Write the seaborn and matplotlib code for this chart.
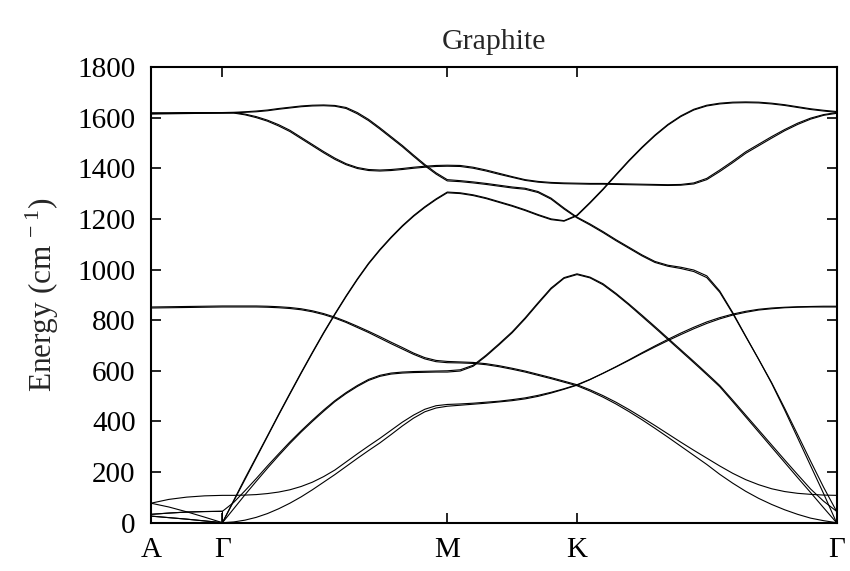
import matplotlib
matplotlib.use("Agg")
import matplotlib.pyplot as plt
import numpy as np
import pandas as pd
import seaborn as sns

# High-symmetry path A - Gamma - M - K - Gamma (path length in 1/Angstrom)
tick_labels = ["A", "Γ", "M", "K", "Γ"]
tick_pos = [0.0, 0.469, 1.944, 2.795, 4.498]

# Sampling fractions inside each segment of the path
frac_AG = [0, 0.25, 0.5, 0.75, 1]
frac_GM = [0] + [i / 20 for i in range(21)]
frac_MK = [i / 10 for i in range(11)]
frac_KG = [i / 20 for i in range(21)]

# Phonon branches (cm^-1); each list runs A-G (5) | G (1) + G-M (21) | M-K (11) | K-G (21)
lo_1 = [1619, 1619, 1620, 1620, 1620,
        1620, 1620, 1621, 1623, 1626, 1630, 1636, 1641, 1646, 1649, 1650, 1648,
        1640, 1620, 1593, 1560, 1525, 1490, 1452, 1415, 1382, 1355,
        1355, 1351, 1346, 1340, 1333, 1326, 1321, 1308, 1282, 1243, 1207,
        1207, 1180, 1150, 1118, 1088, 1058, 1032, 1017, 1009, 998, 975,
        915, 830, 737, 645, 550, 445, 335, 225, 115, 0]
lo_2 = [1617, 1617, 1618, 1618, 1618,
        1618, 1618, 1619, 1621, 1623, 1627, 1633, 1638, 1643, 1646, 1647, 1645,
        1636, 1615, 1588, 1555, 1520, 1485, 1447, 1410, 1377, 1350,
        1350, 1347, 1342, 1336, 1329, 1322, 1317, 1304, 1278, 1239, 1204,
        1204, 1176, 1146, 1114, 1084, 1054, 1028, 1013, 1004, 992, 968,
        910, 826, 735, 645, 553, 452, 348, 243, 140, 45]
to_1 = [1616, 1617, 1618, 1619, 1620,
        1620, 1620, 1620, 1614, 1604, 1590, 1572, 1550, 1522, 1494, 1466, 1440,
        1418, 1403, 1395, 1393, 1395, 1399, 1404, 1408, 1411, 1412,
        1412, 1411, 1404, 1393, 1380, 1367, 1355, 1348, 1344, 1342, 1341,
        1341, 1340, 1340, 1339, 1338, 1337, 1336, 1335, 1336, 1342, 1360,
        1393, 1428, 1465, 1495, 1525, 1553, 1578, 1598, 1612, 1620]
to_2 = [1614, 1615, 1616, 1617, 1618,
        1618, 1618, 1618, 1611, 1600, 1586, 1567, 1545, 1517, 1489, 1461, 1435,
        1414, 1399, 1391, 1389, 1391, 1395, 1400, 1404, 1407, 1408,
        1408, 1407, 1400, 1389, 1376, 1364, 1352, 1345, 1341, 1339, 1338,
        1338, 1337, 1337, 1336, 1335, 1334, 1333, 1332, 1333, 1338, 1355,
        1387, 1422, 1459, 1489, 1519, 1548, 1573, 1594, 1609, 1617]
la_1 = [26, 20, 14, 7, 0,
        0, 0, 85, 170, 255, 340, 425, 508, 590, 670, 748, 822,
        893, 960, 1022, 1076, 1125, 1170, 1210, 1245, 1276, 1303,
        1303, 1300, 1292, 1280, 1265, 1250, 1233, 1214, 1197, 1191, 1212,
        1212, 1262, 1315, 1372, 1428, 1480, 1528, 1570, 1604, 1630, 1646,
        1654, 1658, 1659, 1658, 1654, 1648, 1640, 1632, 1626, 1621]
la_2 = [33, 38, 42, 44, 45,
        0, 0, 88, 175, 259, 343, 428, 511, 593, 673, 751, 825,
        896, 963, 1025, 1079, 1128, 1173, 1213, 1248, 1279, 1306,
        1306, 1303, 1295, 1283, 1268, 1253, 1236, 1217, 1200, 1193, 1215,
        1215, 1265, 1318, 1375, 1431, 1483, 1531, 1573, 1607, 1633, 1649,
        1657, 1661, 1662, 1661, 1657, 1651, 1643, 1635, 1629, 1624]
ta_1 = [26, 20, 14, 7, 0,
        0, 0, 55, 110, 163, 215, 265, 313, 358, 400, 440, 478,
        510, 538, 562, 578, 587, 591, 593, 594, 595, 595,
        595, 599, 618, 658, 703, 750, 805, 865, 923, 965, 980,
        980, 967, 940, 902, 860, 815, 770, 724, 678, 632, 585,
        537, 478, 418, 358, 298, 238, 178, 119, 59, 0]
ta_2 = [33, 38, 42, 44, 45,
        45, 45, 80, 126, 174, 224, 272, 319, 363, 405, 445, 482,
        514, 542, 566, 582, 591, 595, 597, 598, 599, 600,
        600, 604, 622, 662, 707, 754, 809, 869, 927, 968, 983,
        983, 970, 944, 906, 864, 820, 775, 729, 683, 637, 590,
        542, 484, 425, 366, 307, 248, 190, 133, 85, 45]
zo_1 = [852, 853, 854, 855, 856,
        856, 856, 856, 856, 856, 855, 853, 850, 845, 837, 826, 812,
        795, 776, 756, 735, 713, 692, 670, 652, 641, 637,
        637, 635, 633, 628, 620, 610, 599, 586, 573, 559, 545,
        545, 525, 502, 476, 447, 416, 384, 351, 318, 286, 255,
        224, 195, 170, 150, 134, 123, 116, 112, 109, 108]
zo_2 = [848, 849, 850, 851, 852,
        852, 852, 852, 852, 852, 851, 849, 846, 841, 833, 822, 808,
        791, 771, 751, 729, 707, 686, 665, 647, 636, 632,
        632, 631, 629, 624, 616, 606, 595, 582, 569, 555, 541,
        541, 520, 496, 469, 439, 407, 373, 338, 302, 266, 230,
        191, 156, 124, 96, 72, 51, 33, 18, 8, 0]
za_1 = [77, 62, 43, 22, 0,
        0, 0, 3, 10, 21, 36, 55, 77, 102, 130, 160, 190,
        222, 254, 285, 315, 348, 382, 413, 438, 453, 460,
        460, 464, 468, 472, 477, 482, 489, 499, 512, 527, 543,
        543, 565, 590, 616, 643, 671, 698, 724, 749, 772, 793,
        810, 824, 835, 843, 848, 851, 853, 854, 855, 855]
za_2 = [77, 92, 101, 106, 108,
        108, 108, 108, 109, 111, 115, 121, 130, 143, 160, 182, 208,
        240, 272, 303, 333, 365, 397, 425, 448, 462, 467,
        467, 469, 472, 476, 480, 486, 493, 503, 515, 529, 545,
        545, 566, 590, 615, 641, 668, 694, 719, 743, 766, 787,
        805, 820, 831, 840, 845, 849, 851, 852, 852, 852]

branches = {"LO1": lo_1, "LO2": lo_2, "TO1": to_1, "TO2": to_2,
            "LA1": la_1, "LA2": la_2, "TA1": ta_1, "TA2": ta_2,
            "ZO1": zo_1, "ZO2": zo_2, "ZA1": za_1, "ZA2": za_2}

# Path coordinate of every sample point
q = []
segments = zip(tick_pos[:-1], tick_pos[1:])
for (a, b), fr in zip(segments, [frac_AG, frac_GM, frac_MK, frac_KG]):
    q.extend(a + f * (b - a) for f in fr)
q = np.array(q)

df = pd.concat(
    [pd.DataFrame({"q": q, "energy": vals, "branch": name})
     for name, vals in branches.items()],
    ignore_index=True)

sns.set_style("ticks")
plt.rcParams["font.family"] = ["Liberation Serif", "DejaVu Serif"]
plt.rcParams["mathtext.fontset"] = "custom"
plt.rcParams["mathtext.rm"] = "Liberation Serif"

fig = plt.figure(figsize=(8.5, 5.71), dpi=100)
ax = fig.add_axes([0.1776, 0.0846, 0.9842 - 0.1776, 0.8827 - 0.0846])

sns.lineplot(data=df, x="q", y="energy", units="branch", estimator=None,
             sort=False, color="black", linewidth=0.8, ax=ax, legend=False)

ax.set_xlim(tick_pos[0], tick_pos[-1])
ax.set_ylim(0, 1800)
ax.set_xticks(tick_pos)
ax.set_xticklabels(tick_labels)
ax.set_yticks(np.arange(0, 1801, 200))
ax.tick_params(axis="both", direction="in", length=7.5, width=1.2,
               labelsize=21, color="black", labelcolor="black")
ax.tick_params(axis="y", right=True, pad=11)
ax.tick_params(axis="x", top=True, pad=10)
for s in ax.spines.values():
    s.set_linewidth(1.5)
    s.set_color("black")

ax.set_xlabel("")
ax.set_ylabel("Energy (cm$^{\\,-1}$)", fontsize=22.5, labelpad=12)
ax.set_title("Graphite", fontsize=21.5, pad=13)

fig.savefig("out.png", dpi=100, facecolor="white")
